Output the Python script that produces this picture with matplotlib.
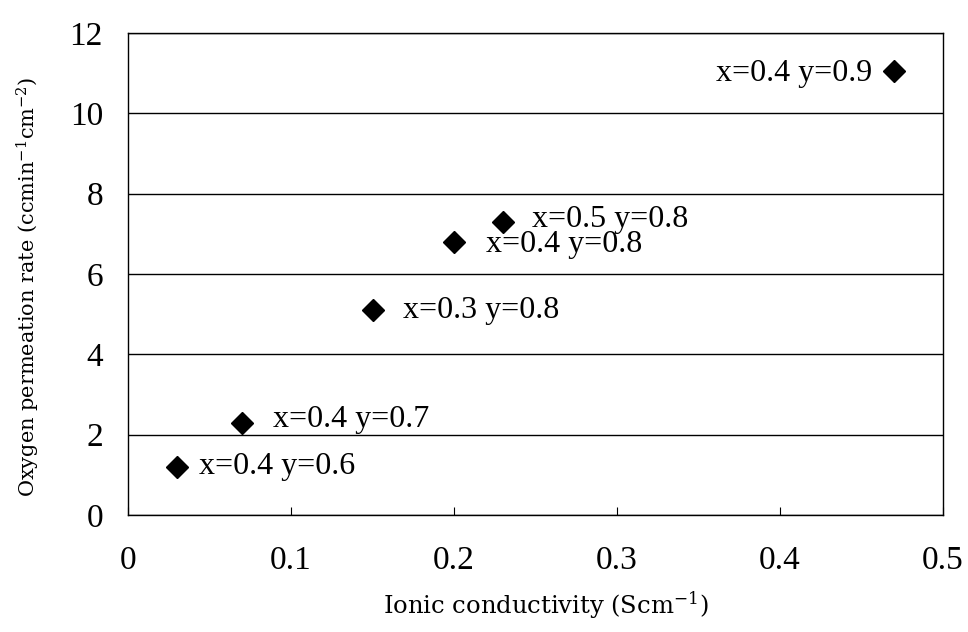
import matplotlib
matplotlib.use("Agg")
import matplotlib.pyplot as plt

conductivity = [0.03, 0.07, 0.15, 0.20, 0.23, 0.47]
permeation = [1.2, 2.3, 5.1, 6.8, 7.3, 11.05]
labels = ["x=0.4 y=0.6", "x=0.4 y=0.7", "x=0.3 y=0.8", "x=0.4 y=0.8", "x=0.5 y=0.8", "x=0.4 y=0.9"]
xticks = [0, 0.1, 0.2, 0.3, 0.4, 0.5]
xticklabels = ["0", "0.1", "0.2", "0.3", "0.4", "0.5"]
yticks = [0, 2, 4, 6, 8, 10, 12]

plt.rcParams['font.family'] = ['Liberation Serif', 'DejaVu Serif']
plt.rcParams['mathtext.fontset'] = 'dejavuserif'

fig = plt.figure(figsize=(9.68, 6.32), dpi=100)
ax = fig.add_axes([128/968, 1-515/632, (943-128)/968, (515-33)/632])

ax.plot(conductivity, permeation, linestyle='none', marker='D', markersize=11,
        color='black', zorder=3)

# label offsets in points (dx, dy)
offsets = [(16, 0), (22, 2), (22, 0), (23, -2), (21, 2), (-16, -2)]
for xv, yv, lab, (dx, dy) in zip(conductivity, permeation, labels, offsets):
    ax.annotate(lab, (xv, yv), xytext=(dx, dy), textcoords='offset points',
                ha='left' if dx > 0 else 'right', va='center', fontsize=23)

ax.set_xlim(0, 0.5)
ax.set_ylim(0, 12)
ax.set_xticks(xticks)
ax.set_xticklabels(xticklabels)
ax.set_yticks(yticks)
ax.yaxis.grid(True, color='black', linewidth=1)
ax.set_axisbelow(True)
for s in ax.spines.values():
    s.set_linewidth(1)
    s.set_color('black')
ax.tick_params(axis='x', direction='in', length=6, labelsize=24, pad=22)
ax.tick_params(axis='y', length=0, labelsize=24, pad=18)

ax.set_xlabel("Ionic conductivity (Scm$^{-1}$)", fontsize=17.5,
              family='DejaVu Serif')
ax.set_ylabel("Oxygen permeation rate (ccmin$^{-1}$cm$^{-2}$)", fontsize=15,
              family='DejaVu Serif')
ax.xaxis.set_label_coords(0.512, -0.155)
ax.yaxis.set_label_coords(-0.105, 0.473)

fig.savefig("out.png", dpi=100)
